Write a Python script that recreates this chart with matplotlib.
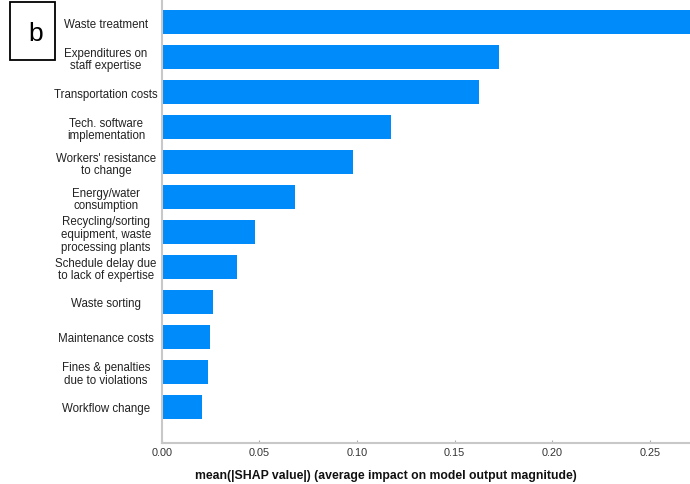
import matplotlib
matplotlib.use("Agg")
import matplotlib.pyplot as plt
import numpy as np

plt.rcParams['font.family'] = ['Liberation Sans', 'DejaVu Sans']

# Features, ordered from bottom to top of the chart
features = [
    "Workflow change",
    "Fines & penalties\ndue to violations",
    "Maintenance costs",
    "Waste sorting",
    "Schedule delay due\nto lack of expertise",
    "Recycling/sorting\nequipment, waste\nprocessing plants",
    "Energy/water\nconsumption",
    "Workers' resistance\nto change",
    "Tech. software\nimplementation",
    "Transportation costs",
    "Expenditures on\nstaff expertise",
    "Waste treatment",
]
mean_abs_shap = [0.0208, 0.0237, 0.0247, 0.0261, 0.0387, 0.0480,
                 0.0683, 0.0980, 0.1175, 0.1626, 0.1728, 0.290]
xticks = [0.00, 0.05, 0.10, 0.15, 0.20, 0.25]

W, H = 690, 485
fig = plt.figure(figsize=(W / 100, H / 100), dpi=100)
ax = fig.add_axes([161.7 / W, (H - 444) / H, 1 - 161.7 / W, 444 / H])

pos = np.arange(len(features))
ax.barh(pos, mean_abs_shap, height=0.67, color="#008bfb", align="center")

ax.set_xlim(0, 0.2706)
ax.set_ylim(-1.03, len(features) - 1 + 0.66)

ax.set_yticks(pos)
ax.set_yticklabels(features, ha="center", fontsize=8.3, color="#222222",
                   linespacing=1.1)
ax.tick_params(axis="y", length=0, pad=55.7 * 72 / 100)
ax.set_xticks(xticks)
ax.set_xticklabels([f"{t:.2f}" for t in xticks], fontsize=7.8, color="#333333")
ax.tick_params(axis="x", direction="in", length=2.5, color="#aaaaaa", pad=3)

for side in ("top", "right"):
    ax.spines[side].set_visible(False)
for side in ("left", "bottom"):
    ax.spines[side].set_color("#c8c8c8")
    ax.spines[side].set_linewidth(1.5)

ax.set_xlabel("mean(|SHAP value|) (average impact on model output magnitude)",
              fontsize=8.8, fontweight="bold", color="#111111")
ax.xaxis.set_label_coords((386 - 161.7) / (W - 161.7), -0.058)

# Panel letter
fig.text(35.5 / W, 1 - 34 / H, "b", fontsize=19, ha="center", va="center",
         color="black")
fig.patches.append(plt.Rectangle((10 / W, 1 - 61 / H), 45 / W, 58 / H,
                                 transform=fig.transFigure, fill=False,
                                 edgecolor="black", linewidth=1.3))

fig.savefig("out.png", dpi=100)
